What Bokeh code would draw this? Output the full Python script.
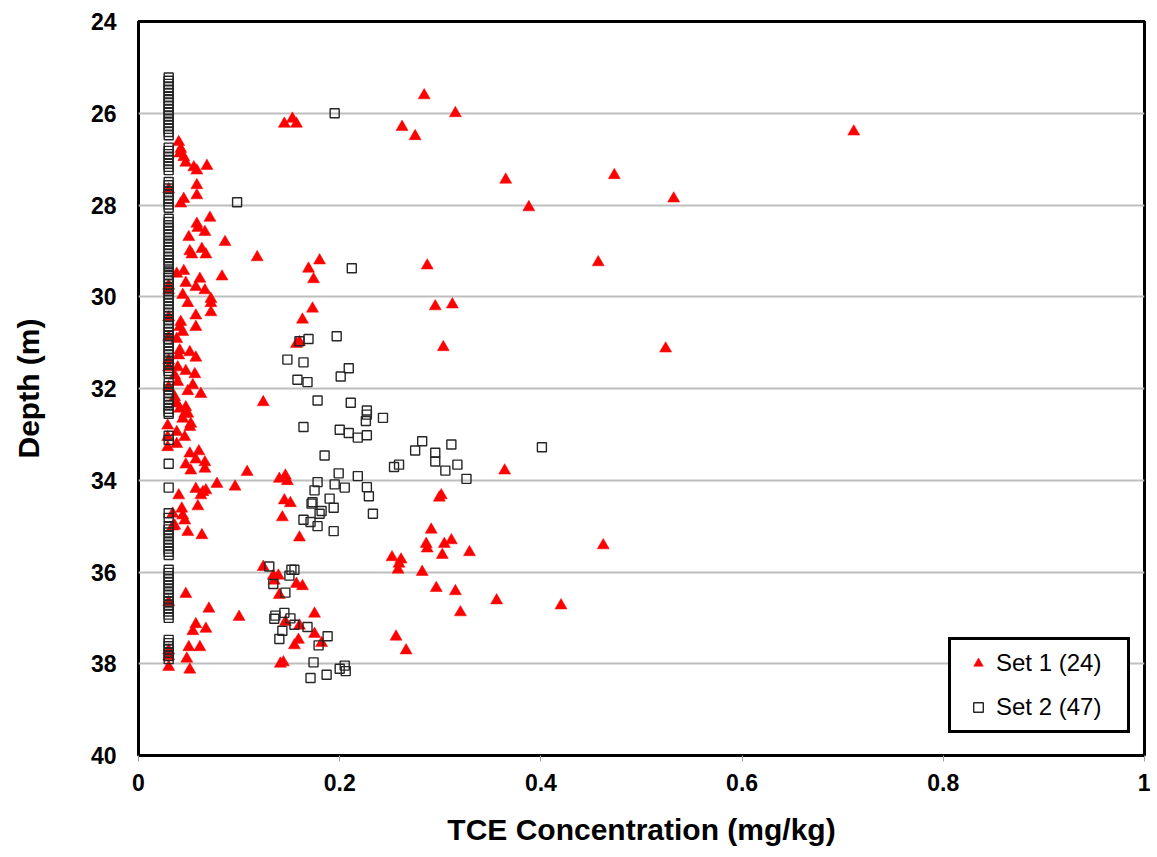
from bokeh.plotting import figure
from bokeh.models import (ColumnDataSource, Range1d, FixedTicker, Legend, LegendItem)
from bokeh.embed import file_html
from bokeh.resources import INLINE

# ---------------- data ----------------
x_ticks = [0, 0.2, 0.4, 0.6, 0.8, 1]
x_tick_labels = ["0", "0.2", "0.4", "0.6", "0.8", "1"]
y_ticks = [24, 26, 28, 30, 32, 34, 36, 38, 40]
y_tick_labels = ["24", "26", "28", "30", "32", "34", "36", "38", "40"]

set1_label = "Set 1 (24)"
set2_label = "Set 2 (47)"

# Set 1 (red triangles): concentration (mg/kg), depth (m)
set1_conc = [
    0.284, 0.315, 0.262, 0.275, 0.711, 0.145, 0.153, 0.157,
    0.473, 0.365, 0.532, 0.388, 0.457, 0.287, 0.524, 0.462, 0.420,
    0.040, 0.042, 0.041, 0.045, 0.047, 0.055, 0.058, 0.068, 0.030, 0.058,
    0.058, 0.045, 0.042, 0.071, 0.058, 0.059, 0.066, 0.050, 0.086, 0.051,
    0.053, 0.063, 0.067, 0.118, 0.083, 0.038, 0.045, 0.047, 0.061, 0.057,
    0.066, 0.030, 0.030, 0.072, 0.072, 0.044, 0.049, 0.057, 0.072, 0.030,
    0.042, 0.041, 0.044, 0.038, 0.057, 0.030, 0.041, 0.040, 0.051, 0.057,
    0.030, 0.030, 0.039, 0.047, 0.056, 0.036, 0.039, 0.054, 0.062, 0.049,
    0.030, 0.124, 0.036, 0.038, 0.041, 0.047, 0.049, 0.046, 0.044,
    0.052, 0.051, 0.029, 0.038, 0.046, 0.038, 0.029, 0.029, 0.051, 0.060,
    0.057, 0.066, 0.047, 0.052, 0.066, 0.108, 0.078, 0.096, 0.057, 0.064,
    0.067, 0.062, 0.040, 0.059, 0.043, 0.034, 0.044, 0.046, 0.036, 0.049,
    0.034, 0.063, 0.047, 0.030, 0.070, 0.100, 0.057, 0.054, 0.067, 0.050,
    0.061, 0.030, 0.030, 0.048, 0.030, 0.051,
    0.169, 0.180, 0.174,
    0.173, 0.163, 0.157, 0.160, 0.295, 0.312, 0.303, 0.140, 0.146,
    0.148, 0.364, 0.145, 0.151, 0.143, 0.160, 0.299, 0.301, 0.291, 0.286,
    0.287, 0.304, 0.311, 0.302, 0.329, 0.252, 0.261, 0.259, 0.258, 0.282,
    0.296, 0.315, 0.356, 0.320, 0.124, 0.134, 0.139, 0.135, 0.157, 0.163,
    0.140, 0.175, 0.146, 0.160, 0.175, 0.159, 0.155, 0.182, 0.256, 0.266,
    0.141, 0.144,
]
set1_depth = [
    25.61, 26.00, 26.30, 26.50, 26.40, 26.23, 26.12, 26.23,
    27.35, 27.45, 27.86, 28.05, 29.25, 29.32, 31.13, 35.42, 36.73,
    26.63, 26.78, 26.88, 26.96, 27.08, 27.18, 27.25, 27.15, 27.66, 27.57,
    27.79, 27.87, 27.97, 28.28, 28.41, 28.50, 28.59, 28.70, 28.81, 29.01,
    29.08, 28.96, 29.08, 29.14, 29.56, 29.50, 29.44, 29.70, 29.61, 29.79,
    29.86, 29.76, 29.86, 30.05, 30.14, 29.96, 30.14, 30.41, 30.34, 30.45,
    30.55, 30.66, 30.77, 30.92, 30.66, 30.88, 31.17, 31.28, 31.21, 31.33,
    31.39, 31.54, 31.54, 31.62, 31.69, 31.72, 31.86, 31.93, 32.12, 32.06,
    31.97, 32.30, 32.19, 32.33, 32.44, 32.41, 32.55, 32.55, 32.66,
    32.77, 32.84, 32.81, 32.95, 33.06, 33.21, 33.28, 33.06, 33.42, 33.37,
    33.55, 33.61, 33.66, 33.79, 33.75, 33.82, 34.08, 34.14, 34.19, 34.26,
    34.22, 34.33, 34.33, 34.57, 34.62, 34.73, 34.77, 34.88, 34.99, 35.13,
    35.01, 35.20, 36.48, 36.66, 36.80, 36.98, 37.14, 37.29, 37.24, 37.64,
    37.64, 37.71, 37.84, 37.89, 38.07, 38.13,
    29.39, 29.21, 29.62,
    30.26, 30.50, 31.03, 30.99, 30.21, 30.17, 31.10, 33.97, 33.90,
    34.02, 33.79, 34.44, 34.50, 34.81, 35.25, 34.38, 34.33, 35.08, 35.39,
    35.49, 35.39, 35.31, 35.63, 35.57, 35.68, 35.73, 35.82, 35.95, 36.00,
    36.35, 36.42, 36.62, 36.88, 35.89, 36.08, 36.08, 36.19, 36.26, 36.31,
    36.50, 36.91, 37.09, 37.17, 37.35, 37.48, 37.60, 37.55, 37.41, 37.71,
    38.00, 37.97,
]

# Set 2 (open squares) detected values
set2_conc = [
    0.195, 0.098, 0.212,
    0.160, 0.169, 0.197, 0.148, 0.164, 0.209, 0.201, 0.158, 0.168, 0.178,
    0.211, 0.227, 0.227, 0.226, 0.243, 0.164, 0.200, 0.209, 0.218, 0.227,
    0.185, 0.282, 0.275, 0.295, 0.311, 0.295, 0.317, 0.305, 0.326, 0.401,
    0.254, 0.259, 0.199, 0.218, 0.178, 0.195, 0.205, 0.227, 0.229, 0.175,
    0.190, 0.194, 0.172, 0.173, 0.182, 0.180, 0.233, 0.164, 0.171, 0.178,
    0.194, 0.130, 0.150, 0.152, 0.155, 0.134, 0.146, 0.136, 0.135, 0.145,
    0.151, 0.155, 0.168, 0.143, 0.140, 0.188, 0.179, 0.174, 0.205, 0.200,
    0.206, 0.187, 0.171,
]
set2_depth = [
    26.00, 27.94, 29.38,
    30.97, 30.92, 30.86, 31.37, 31.43, 31.56, 31.74, 31.81, 31.86, 32.26,
    32.31, 32.48, 32.57, 32.71, 32.64, 32.84, 32.90, 32.97, 33.07, 33.02,
    33.46, 33.15, 33.35, 33.40, 33.22, 33.59, 33.66, 33.79, 33.97, 33.28,
    33.71, 33.66, 33.85, 33.91, 34.04, 34.09, 34.16, 34.15, 34.35, 34.22,
    34.40, 34.60, 34.51, 34.48, 34.67, 34.73, 34.73, 34.86, 34.91, 35.00,
    35.11, 35.88, 36.08, 35.95, 35.95, 36.26, 36.45, 36.95, 37.02, 36.89,
    37.01, 37.15, 37.20, 37.28, 37.46, 37.40, 37.60, 37.97, 38.04, 38.11,
    38.16, 38.24, 38.31,
]

# Set 2 values plotted at the reporting limit (0.03 mg/kg)
set2_rl_conc = 0.03
set2_rl_depth = [
    25.22, 25.29, 25.36, 25.43, 25.50, 25.57, 25.64, 25.71, 25.78, 25.85,
    25.92, 25.99, 26.06, 26.13, 26.20, 26.27, 26.34, 26.41, 26.48,
    26.75, 26.82, 26.89, 26.96, 27.03, 27.10, 27.17, 27.24,
    27.50, 27.57, 27.64, 27.71, 27.78, 27.85, 27.92, 27.99, 28.06,
    28.30, 28.37, 28.44, 28.51, 28.58, 28.65, 28.72, 28.79, 28.86, 28.93,
    29.00, 29.07, 29.14, 29.21, 29.28, 29.35, 29.45, 29.52, 29.59, 29.66,
    29.73, 29.80, 29.87, 29.94, 30.01, 30.08, 30.15, 30.22, 30.29, 30.36,
    30.43, 30.50, 30.57, 30.64, 30.71, 30.78, 30.85, 30.92, 30.99, 31.06,
    31.13, 31.20, 31.27, 31.34, 31.41, 31.48, 31.55, 31.62, 31.67,
    31.88, 31.95, 32.02, 32.09, 32.16, 32.23, 32.30, 32.37, 32.44, 32.51, 32.55,
    33.03, 33.12, 33.64, 34.16, 34.72, 34.82,
    35.00, 35.07, 35.14, 35.21, 35.28, 35.35, 35.42, 35.49, 35.56, 35.63,
    35.95, 36.02, 36.09, 36.16, 36.23, 36.30, 36.37, 36.44, 36.51, 36.58,
    36.65, 36.72, 36.79, 36.86, 36.93, 37.00,
    37.48, 37.55, 37.62, 37.69, 37.76, 37.83, 37.90,
]

# ---------------- figure ----------------
FONT = "Liberation Sans"

p = figure(width=1150, height=852, output_backend="svg", toolbar_location=None,
           x_range=Range1d(0, 1), y_range=Range1d(40, 24),
           min_border_left=138, min_border_right=6, min_border_top=21,
           min_border_bottom=97)

p.outline_line_color = "black"
p.outline_line_width = 3
p.background_fill_color = "white"
p.border_fill_color = "white"

p.xgrid.visible = False
p.ygrid.ticker = FixedTicker(ticks=y_ticks[1:-1])
p.ygrid.grid_line_color = "#BEBEBE"
p.ygrid.grid_line_width = 2

src1 = ColumnDataSource(dict(x=set1_conc, y=set1_depth))
all2_conc = set2_conc + [set2_rl_conc] * len(set2_rl_depth)
all2_depth = set2_depth + set2_rl_depth
src2 = ColumnDataSource(dict(x=all2_conc, y=all2_depth))

r1 = p.scatter("x", "y", source=src1, marker="triangle", size=12,
               fill_color="#FF0000", line_color="#FF0000", line_width=0.5)
r2 = p.scatter("x", "y", source=src2, marker="square", size=9,
               fill_alpha=0, line_color="#262626", line_width=1.4)

# axes
xa = p.xaxis[0]
xa.ticker = FixedTicker(ticks=x_ticks)
xa.major_label_overrides = {t: l for t, l in zip(x_ticks, x_tick_labels)}
xa.axis_line_color = None
xa.major_tick_out = 6
xa.major_tick_in = 0
xa.major_tick_line_color = "#A0A0A0"
xa.minor_tick_line_color = None
xa.major_label_standoff = 12
xa.major_label_text_font = FONT
xa.major_label_text_font_style = "bold"
xa.major_label_text_font_size = "23px"
xa.major_label_text_color = "black"
xa.axis_label = "TCE Concentration (mg/kg)"
xa.axis_label_text_font = FONT
xa.axis_label_text_font_style = "bold"
xa.axis_label_text_font_size = "30px"
xa.axis_label_text_color = "black"
xa.axis_label_standoff = 19

ya = p.yaxis[0]
ya.ticker = FixedTicker(ticks=y_ticks)
ya.major_label_overrides = {t: l for t, l in zip(y_ticks, y_tick_labels)}
ya.axis_line_color = None
ya.major_tick_out = 0
ya.major_tick_in = 0
ya.minor_tick_line_color = None
ya.major_label_standoff = 22
ya.major_label_text_font = FONT
ya.major_label_text_font_style = "bold"
ya.major_label_text_font_size = "23px"
ya.major_label_text_color = "black"
ya.axis_label = "Depth (m)"
ya.axis_label_text_font = FONT
ya.axis_label_text_font_style = "bold"
ya.axis_label_text_font_size = "30px"
ya.axis_label_text_color = "black"
ya.axis_label_standoff = 43

legend = Legend(items=[LegendItem(label=set1_label, renderers=[r1]),
                       LegendItem(label=set2_label, renderers=[r2])],
                location=(810, 22))
legend.padding = 9
legend.spacing = 16
legend.glyph_width = 36
legend.glyph_height = 24
legend.label_height = 24
legend.label_width = 122
legend.label_standoff = 0
legend.label_text_font = FONT
legend.label_text_font_size = "24px"
legend.label_text_color = "black"
legend.border_line_color = "black"
legend.border_line_alpha = 1
legend.border_line_width = 3
legend.background_fill_color = "white"
legend.background_fill_alpha = 1
p.add_layout(legend)

open("out.html", "w").write(file_html(p, INLINE))
